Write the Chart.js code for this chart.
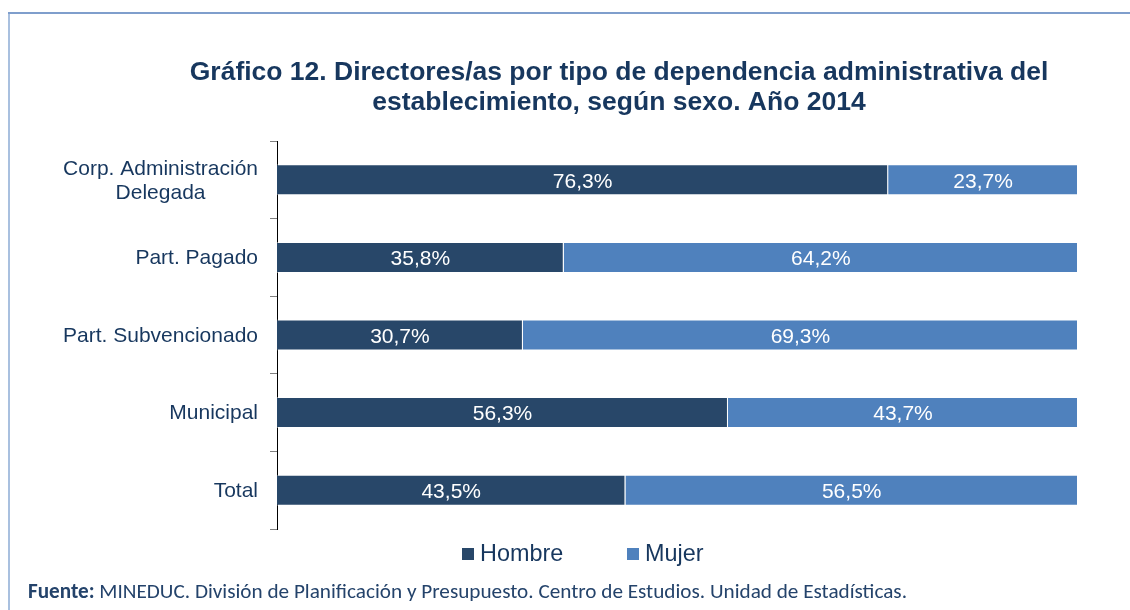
<!DOCTYPE html>
<html lang="es">
<head>
<meta charset="utf-8">
<script src="https://cdn.jsdelivr.net/npm/chart.js@4.4.1/dist/chart.umd.min.js"></script>
<style>
  html, body { margin: 0; padding: 0; background: #fff; }
  #marco { position: relative; width: 1130px; height: 610px; overflow: hidden; }
  #bordeIzq { position: absolute; left: 8px; top: 13px; width: 2px; height: 600px; background: #a9c0df; }
  #bordeSup { position: absolute; left: 8px; top: 12px; width: 1122px; height: 2px; background: #7f9ecc; }
  canvas { position: absolute; left: 0; top: 0; }
  .leyenda { position: absolute; top: 540px; font: 23.4px "Liberation Sans", Arial, sans-serif; color: #17375e; line-height: 26px; white-space: nowrap; }
  .leyenda span.caja { display: inline-block; width: 12px; height: 12px; margin-right: 6px; vertical-align: 1px; }
  #fuente { position: absolute; left: 28px; top: 579px; font: 21.2px Carlito, Lato, sans-serif; line-height: 24px; color: #24436b; white-space: nowrap; }
</style>
</head>
<body>
<div id="marco">
  <div id="bordeIzq"></div>
  <div id="bordeSup"></div>
  <canvas id="grafico" width="1130" height="610"></canvas>
  <div class="leyenda" id="leyHombre" style="left:462px"></div>
  <div class="leyenda" id="leyMujer" style="left:627px"></div>
  <div id="fuente"><b>Fuente:</b> MINEDUC. División de Planificación y Presupuesto. Centro de Estudios. Unidad de Estadísticas.</div>
</div>
<script>
// datos del gráfico
const categorias = [["Corp. Administración", "Delegada"], "Part. Pagado", "Part. Subvencionado", "Municipal", "Total"];
const hombre = [76.3, 35.8, 30.7, 56.3, 43.5];
const mujer = [23.7, 64.2, 69.3, 43.7, 56.5];
const series = ["Hombre", "Mujer"];
const colores = ["#284769", "#4f81bd"];
const titulo = ["Gráfico 12. Directores/as por tipo de dependencia administrativa del", "establecimiento, según sexo. Año 2014"];

const colorTexto = "#17375e";
const fuente = "'Liberation Sans', Arial, sans-serif";

// leyenda en html
document.getElementById("leyHombre").innerHTML = '<span class="caja" style="background:' + colores[0] + '"></span>' + series[0];
document.getElementById("leyMujer").innerHTML = '<span class="caja" style="background:' + colores[1] + '"></span>' + series[1];

// etiquetas blancas dentro de cada barra
const etiquetasBarras = {
  id: "etiquetasBarras",
  afterDatasetsDraw(chart) {
    const ctx = chart.ctx;
    ctx.save();
    ctx.font = "21px " + fuente;
    ctx.fillStyle = "#ffffff";
    ctx.textAlign = "center";
    ctx.textBaseline = "middle";
    chart.data.datasets.forEach((ds, i) => {
      const meta = chart.getDatasetMeta(i);
      meta.data.forEach((barra, j) => {
        const p = barra.getCenterPoint();
        const txt = ds.data[j].toFixed(1).replace(".", ",") + "%";
        ctx.fillText(txt, p.x, p.y + 2);
      });
    });
    ctx.restore();
  }
};

// nombres de categoría (líneas centradas entre sí, bloque alineado a la derecha)
const etiquetasCategorias = {
  id: "etiquetasCategorias",
  afterDraw(chart) {
    const ctx = chart.ctx;
    const escala = chart.scales.y;
    const derecha = escala.right - 19;
    ctx.save();
    ctx.font = "21px " + fuente;
    ctx.fillStyle = colorTexto;
    ctx.textAlign = "center";
    ctx.textBaseline = "middle";
    categorias.forEach((cat, i) => {
      const lineas = Array.isArray(cat) ? cat : [cat];
      const ancho = Math.max(...lineas.map(l => ctx.measureText(l).width));
      const cx = derecha - ancho / 2;
      const y = escala.getPixelForValue(i);
      const alto = 24;
      lineas.forEach((l, k) => {
        ctx.fillText(l, cx, y + 1 + (k - (lineas.length - 1) / 2) * alto);
      });
    });
    ctx.restore();
  }
};

new Chart(document.getElementById("grafico"), {
  type: "bar",
  data: {
    labels: categorias,
    datasets: [
      { label: series[0], data: hombre, backgroundColor: colores[0], borderColor: "rgba(255,255,255,0.45)", borderWidth: 1 },
      { label: series[1], data: mujer, backgroundColor: colores[1], borderColor: "rgba(255,255,255,0.45)", borderWidth: 1 }
    ]
  },
  options: {
    indexAxis: "y",
    responsive: false,
    animation: false,
    categoryPercentage: 1,
    barPercentage: 0.4,
    layout: { padding: { left: 160, right: 52, top: 40, bottom: 81 } },
    plugins: {
      legend: { display: false },
      tooltip: { enabled: false },
      title: {
        display: true,
        text: titulo,
        color: colorTexto,
        font: { family: fuente, size: 26.5, weight: "bold", lineHeight: "30px" },
        padding: { top: 18, bottom: 23 }
      }
    },
    scales: {
      x: { stacked: true, min: 0, max: 100, display: false },
      y: {
        stacked: true,
        afterFit(escala) { escala.width = 117; },
        ticks: { display: false },
        grid: { offset: true, drawOnChartArea: false, drawTicks: true, tickLength: 7, color: "#808080", lineWidth: 1 },
        border: { display: true, color: "#000000", width: 1 }
      }
    }
  },
  plugins: [etiquetasBarras, etiquetasCategorias]
});
</script>
</body>
</html>
